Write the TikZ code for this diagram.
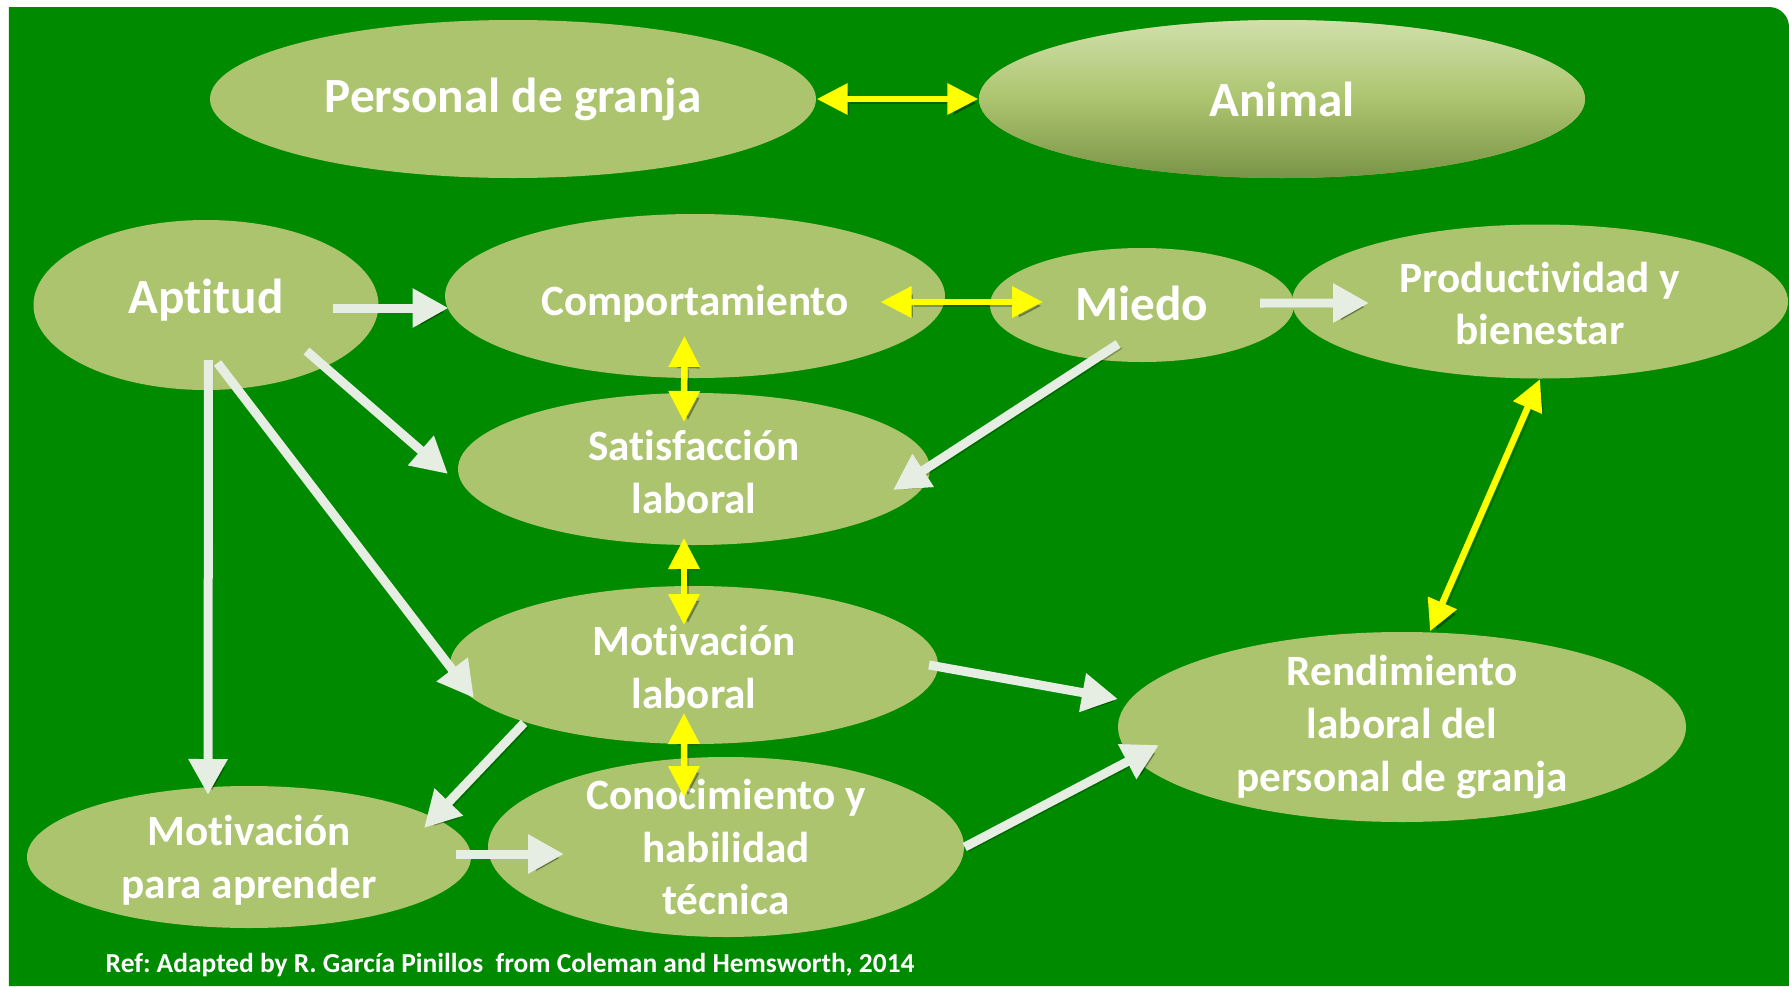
\documentclass[tikz,border=0pt]{standalone}
\usepackage{fontspec}
\setmainfont{Carlito}[Ligatures=NoCommon]
\usetikzlibrary{shapes.geometric,arrows.meta,positioning}
\definecolor{fieldgreen}{RGB}{0,138,0}
\definecolor{olivebox}{RGB}{172,196,110}
\definecolor{olivetop}{RGB}{208,224,170}
\definecolor{olivebottom}{RGB}{122,148,72}
\definecolor{arrowwhite}{RGB}{230,238,228}
\definecolor{linkyellow}{RGB}{255,255,0}
\frenchspacing

\begin{document}
\begin{tikzpicture}[
    factor/.style={ellipse, fill=olivebox, inner sep=0pt},
    ftext/.style={text=white, align=center, inner sep=0pt, font=\bfseries\fontsize{12.3}{15}\selectfont},
    fbig/.style={ftext, font=\bfseries\fontsize{14}{17}\selectfont},
    fnote/.style={text=white, inner sep=0pt, font=\bfseries\fontsize{7.8}{9}\selectfont},
    flow/.style={-{Triangle[length=3.6mm, width=3.7mm]}, line width=0.9mm, arrowwhite,
        preaction={draw=black, opacity=0.25, transform canvas={xshift=0.4mm, yshift=-0.4mm}}},
    link/.style={{Triangle[length=3.1mm, width=3mm]}-{Triangle[length=3.1mm, width=3mm]}, line width=0.65mm, linkyellow,
        preaction={draw=black, opacity=0.25, transform canvas={xshift=0.4mm, yshift=-0.4mm}}}
]

% Background
\useasboundingbox (0,0) rectangle (17.89,9.86);
\fill[fieldgreen] (0.09,0) -- (0.09,9.79) -- (17.69,9.79) arc[start angle=90, end angle=0, radius=0.2] -- (17.89,0) -- cycle;

% Factors
\node[factor, minimum width=6.06cm, minimum height=1.58cm] (personal) at (5.13,8.87) {};
\node[factor, shade, top color=olivetop, bottom color=olivebottom, middle color=olivebox,
      minimum width=6.06cm, minimum height=1.58cm] (animal) at (12.82,8.87) {};
\node[factor, minimum width=3.45cm, minimum height=1.70cm] (aptitud) at (2.06,6.81) {};
\node[factor, minimum width=5.00cm, minimum height=1.64cm] (comport) at (6.95,6.90) {};
\node[factor, minimum width=3.04cm, minimum height=1.14cm] (miedo) at (11.42,6.81) {};
\node[factor, minimum width=4.96cm, minimum height=1.54cm] (product) at (15.40,6.845) {};
\node[factor, minimum width=4.72cm, minimum height=1.52cm] (satisf) at (6.94,5.17) {};
\node[factor, minimum width=4.88cm, minimum height=1.58cm] (motivlab) at (6.94,3.21) {};
\node[factor, minimum width=4.44cm, minimum height=1.42cm] (motivapr) at (2.49,1.29) {};
\node[factor, minimum width=4.76cm, minimum height=1.80cm] (conoc) at (7.26,1.39) {};
\node[factor, minimum width=5.68cm, minimum height=1.90cm] (rendim) at (14.02,2.59) {};

% Texts
\node[fbig] (personal-t) at (personal) {Personal de granja};
\node[fbig] (animal-t) at (animal) {Animal};
\node[fbig] (aptitud-t) at ([yshift=0.05cm]aptitud.center) {Aptitud};
\node[ftext] (comport-t) at ([yshift=-0.08cm]comport.center) {Comportamiento};
\node[fbig] (miedo-t) at ([yshift=0.02cm]miedo.center) {Miedo};
\node[ftext] (product-t) at ([yshift=-0.02cm]product.center) {Productividad y\\bienestar};
\node[ftext] (satisf-t) at ([yshift=-0.03cm]satisf.center) {Satisfacción\\laboral};
\node[ftext] (motivlab-t) at ([yshift=-0.02cm]motivlab.center) {Motivación\\laboral};
\node[ftext] (motivapr-t) at ([yshift=-0.03cm]motivapr.center) {Motivación\\para aprender};
\node[ftext] (conoc-t) at (conoc) {Conocimiento y\\habilidad\\técnica};
\node[ftext] (rendim-t) at (rendim) {Rendimiento\\laboral del\\personal de granja};
\node[fnote, anchor=west] (ref) at (1.05,0.21) {Ref: Adapted by R. García Pinillos\ \ from Coleman and Hemsworth, 2014};

% Influences
\draw[flow] ([shift={(1.265,-0.03)}]aptitud.center) -- ([shift={(-2.465,-0.12)}]comport.center);
\draw[flow] ([shift={(1.005,-0.46)}]aptitud.center) -- ([shift={(-2.46,-0.05)}]satisf.center);
\draw[flow] ([shift={(0.115,-0.58)}]aptitud.center) -- ([shift={(-2.20,-0.33)}]motivlab.center);
\draw[flow] ([shift={(0.025,-0.55)}]aptitud.center) -- ([shift={(-0.41,0.62)}]motivapr.center);
\draw[flow] ([shift={(-0.24,-0.39)}]miedo.center) -- ([shift={(1.99,-0.21)}]satisf.center);
\draw[flow] ([shift={(1.18,0.02)}]miedo.center) -- ([shift={(-1.71,-0.015)}]product.center);
\draw[flow] ([shift={(2.35,0)}]motivlab.center) -- ([shift={(-2.84,0.28)}]rendim.center);
\draw[flow] ([shift={(-1.70,-0.58)}]motivlab.center) -- ([shift={(1.75,0.29)}]motivapr.center);
\draw[flow] ([shift={(2.07,0.03)}]motivapr.center) -- ([shift={(-1.62,-0.07)}]conoc.center);
\draw[flow] (conoc.east) -- ([shift={(-2.43,-0.18)}]rendim.center);

% Mutual links
\draw[link] (personal.east) -- (animal.west);
\draw[link] ([shift={(1.855,-0.06)}]comport.center) -- ([shift={(-0.99,0.03)}]miedo.center);
\draw[link] ([shift={(-0.105,-0.40)}]comport.center) -- ([shift={(-0.10,0.47)}]satisf.center);
\draw[link] ([shift={(-0.10,-0.69)}]satisf.center) -- ([shift={(-0.10,0.40)}]motivlab.center);
\draw[link] ([shift={(-0.10,-0.48)}]motivlab.center) -- ([shift={(-0.42,0.50)}]conoc.center);
\draw[link] (product.south) -- ([xshift=0.28cm]rendim.north);

\end{tikzpicture}
\end{document}
